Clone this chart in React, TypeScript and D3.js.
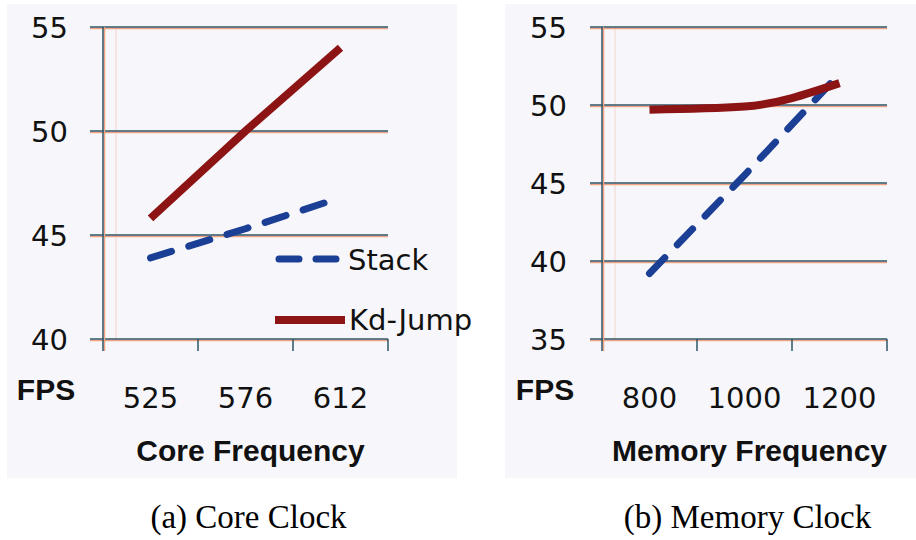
import React from "react";
import * as d3 from "d3";

// values
const coreFreqs = ["525", "576", "612"];
const coreStack = [43.9, 45.3, 46.8];
const coreKdJump = [45.8, 50.0, 54.0];
const coreTicks = [40, 45, 50, 55];

const memFreqs = ["800", "1000", "1200"];
const memStack = [39.2, 45.5, 52.0];
const memKdJump = [49.7, 49.9, 51.4];
const memTicks = [35, 40, 45, 50, 55];

const seriesNames = ["Stack", "Kd-Jump"];
const captions = ["(a) Core Clock", "(b) Memory Clock"];
const axisTitles = ["Core Frequency", "Memory Frequency"];

const STACK_COLOR = "#1c3f96";
const KD_COLOR = "#8c1414";
const GRID_DARK = "#2c5466";
const GRID_SALMON = "#f2a283";
const BG = "#f7f7fb";
const LABEL_FONT = "'DejaVu Sans', sans-serif";
const TITLE_FONT = "'Liberation Sans', Arial, sans-serif";

type PanelProps = {
  freqs: string[];
  stack: number[];
  kd: number[];
  ticks: number[];
  x0: number;
  x1: number;
  gridLeft: number;
  bg: [number, number];
  title: string;
  caption: string;
  smoothKd?: boolean;
  legend?: boolean;
};

const top = 27;
const bottom = 339;

const Panel = ({ freqs, stack, kd, ticks, x0, x1, gridLeft, bg, title, caption, smoothKd, legend }: PanelProps) => {
  const x = d3.scaleBand().domain(freqs).range([x0, x1]).paddingInner(0).paddingOuter(0);
  const y = d3.scaleLinear().domain([ticks[0], ticks[ticks.length - 1]]).range([bottom, top]);
  const cx = (i: number) => (x(freqs[i]) as number) + x.bandwidth() / 2;

  const straight = d3.line<number>().x((_, i) => cx(i)).y((d) => y(d));
  const kdLine = d3
    .line<number>()
    .x((_, i) => cx(i))
    .y((d) => y(d))
    .curve(smoothKd ? d3.curveMonotoneX : d3.curveLinear);

  const boundaries = [x0, ...freqs.map((f) => (x(f) as number) + x.bandwidth())];
  const mid = (x0 + x1) / 2;

  return (
    <g>
      <rect x={bg[0]} y={4} width={bg[1] - bg[0]} height={474} fill={BG} />
      {/* faint inner frame */}
      <line x1={x0 + 13} x2={x0 + 13} y1={top} y2={bottom} stroke="#f6d6cc" strokeWidth={1} />
      {ticks.map((t) => (
        <g key={t}>
          <line x1={gridLeft} x2={x1} y1={y(t) + 1.5} y2={y(t) + 1.5} stroke={GRID_SALMON} strokeWidth={1.5} />
          <line x1={gridLeft} x2={x1} y1={y(t)} y2={y(t)} stroke={GRID_DARK} strokeWidth={1.5} />
          <text
            x={x0 - 35}
            y={y(t) + 11}
            textAnchor="end"
            fontFamily={LABEL_FONT}
            fontSize={29}
            fill="#111"
          >
            {t}
          </text>
        </g>
      ))}
      <line x1={x0 + 1.5} x2={x0 + 1.5} y1={top} y2={bottom + 12} stroke={GRID_SALMON} strokeWidth={1.5} />
      <line x1={x0} x2={x0} y1={top} y2={bottom + 12} stroke={GRID_DARK} strokeWidth={1.5} />
      {boundaries.slice(1).map((b, i) => (
        <line key={i} x1={b} x2={b} y1={bottom} y2={bottom + 12} stroke={GRID_DARK} strokeWidth={1.5} />
      ))}
      {freqs.map((f, i) => (
        <text key={f} x={cx(i)} y={408} textAnchor="middle" fontFamily={LABEL_FONT} fontSize={29} fill="#111">
          {f}
        </text>
      ))}
      <text x={x0 - 57} y={400} textAnchor="middle" fontFamily={TITLE_FONT} fontWeight="bold" fontSize={30} fill="#111">
        FPS
      </text>
      <text x={mid + 5} y={461} textAnchor="middle" fontFamily={TITLE_FONT} fontWeight="bold" fontSize={30} fill="#111">
        {title}
      </text>

      <path
        d={straight(stack) || ""}
        fill="none"
        stroke={STACK_COLOR}
        strokeWidth={7}
        strokeDasharray="22 18"
        strokeLinecap="round"
      />
      <path d={kdLine(kd) || ""} fill="none" stroke={KD_COLOR} strokeWidth={8} strokeLinecap="butt" />

      {legend && (
        <g>
          <line x1={279} x2={336} y1={259} y2={259} stroke={STACK_COLOR} strokeWidth={7} strokeDasharray="20 17" strokeLinecap="round" />
          <text x={348} y={270} fontFamily={LABEL_FONT} fontSize={29} fill="#111">
            {seriesNames[0]}
          </text>
          <line x1={275} x2={345} y1={320} y2={320} stroke={KD_COLOR} strokeWidth={8} />
          <text x={349} y={330} fontFamily={LABEL_FONT} fontSize={29} fill="#111">
            {seriesNames[1]}
          </text>
        </g>
      )}

      <text x={mid + 3} y={528} textAnchor="middle" fontFamily="'Liberation Serif', 'Times New Roman', serif" fontSize={33} fill="#000">
        {caption}
      </text>
    </g>
  );
};

export default function App() {
  return (
    <svg
      width={916}
      height={540}
      viewBox="0 0 916 540"
      style={{ position: "absolute", left: 0, top: 0, background: "#fff" }}
    >
      <Panel
        freqs={memFreqs}
        stack={memStack}
        kd={memKdJump}
        ticks={memTicks}
        x0={602}
        x1={887}
        gridLeft={590}
        bg={[505, 916]}
        title={axisTitles[1]}
        caption={captions[1]}
        smoothKd
      />
      <Panel
        freqs={coreFreqs}
        stack={coreStack}
        kd={coreKdJump}
        ticks={coreTicks}
        x0={103}
        x1={388}
        gridLeft={90}
        bg={[7, 457]}
        title={axisTitles[0]}
        caption={captions[0]}
        legend
      />
    </svg>
  );
}
